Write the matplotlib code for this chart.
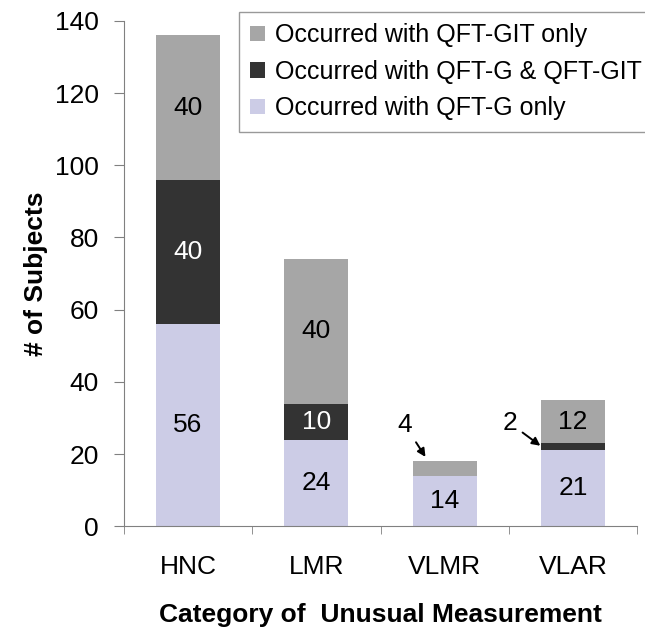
import matplotlib.pyplot as plt
import numpy as np

plt.rcParams['font.family'] = ['Liberation Sans', 'DejaVu Sans']

# data
categories = ["HNC", "LMR", "VLMR", "VLAR"]
g_only = [56, 24, 14, 21]
both = [40, 10, 0, 2]
git_only = [40, 40, 4, 12]

col_g = "#CCCCE6"
col_both = "#333333"
col_git = "#A6A6A6"

fig = plt.figure(figsize=(6.45, 6.34), dpi=100)
ax = fig.add_axes([0.192, 0.170, 0.796, 0.797])

x = np.arange(len(categories))
w = 0.5
b1 = ax.bar(x, g_only, w, color=col_g, label="Occurred with QFT-G only")
b2 = ax.bar(x, both, w, bottom=g_only, color=col_both, label="Occurred with QFT-G & QFT-GIT")
bottom3 = [a + b for a, b in zip(g_only, both)]
b3 = ax.bar(x, git_only, w, bottom=bottom3, color=col_git, label="Occurred with QFT-GIT only")

# segment labels (small ones are annotated with arrows)
fs = 19
for i in range(len(categories)):
    ax.text(x[i], g_only[i] / 2, str(g_only[i]), ha="center", va="center", fontsize=fs)
    if both[i] >= 10:
        ax.text(x[i], g_only[i] + both[i] / 2, str(both[i]), ha="center", va="center",
                fontsize=fs, color="white")
    if git_only[i] >= 10:
        ax.text(x[i], bottom3[i] + git_only[i] / 2, str(git_only[i]), ha="center",
                va="center", fontsize=fs)

arrow = dict(arrowstyle="-|>", color="black", lw=1.4, mutation_scale=12, shrinkA=2, shrinkB=0)
ax.annotate(str(git_only[2]), xy=(1.85, bottom3[2] + git_only[2] + 1.2), xytext=(1.69, 28),
            ha="center", va="center", fontsize=fs, arrowprops=arrow)
ax.annotate(str(both[3]), xy=(2.745, g_only[3] + both[3] / 2 + 0.3), xytext=(2.51, 28.5),
            ha="center", va="center", fontsize=fs, arrowprops=arrow)

ax.set_xlim(-0.5, 3.5)
ax.set_ylim(0, 140)
ax.set_yticks(range(0, 141, 20))
ax.set_xticks(x)
ax.set_xticklabels(categories)
ax.set_xticks(np.arange(-0.5, 3.6, 1), minor=True)
ax.tick_params(axis="x", which="major", length=0, labelsize=fs, pad=21)
ax.tick_params(axis="x", which="minor", length=6, color="#808080", direction="out")
ax.tick_params(axis="y", labelsize=fs, length=7, pad=11, color="#808080")
for s in ["top", "right"]:
    ax.spines[s].set_visible(False)
for s in ["left", "bottom"]:
    ax.spines[s].set_color("#808080")

ax.set_ylabel("# of Subjects", fontsize=fs, fontweight="bold", labelpad=5)
ax.set_xlabel("Category of  Unusual Measurement", fontsize=fs, fontweight="bold", labelpad=17)

leg = fig.legend(handles=[b3, b2, b1], loc="upper left", bbox_to_anchor=(239 / 645, 1 - 12 / 634),
                 fontsize=18, frameon=True, fancybox=False, handlelength=0.6, handleheight=0.6,
                 handletextpad=0.4, borderpad=0.45, labelspacing=0.5, borderaxespad=0)
leg.get_frame().set_edgecolor("#808080")
leg.get_frame().set_linewidth(1.0)

fig.savefig("out.png", dpi=100)
